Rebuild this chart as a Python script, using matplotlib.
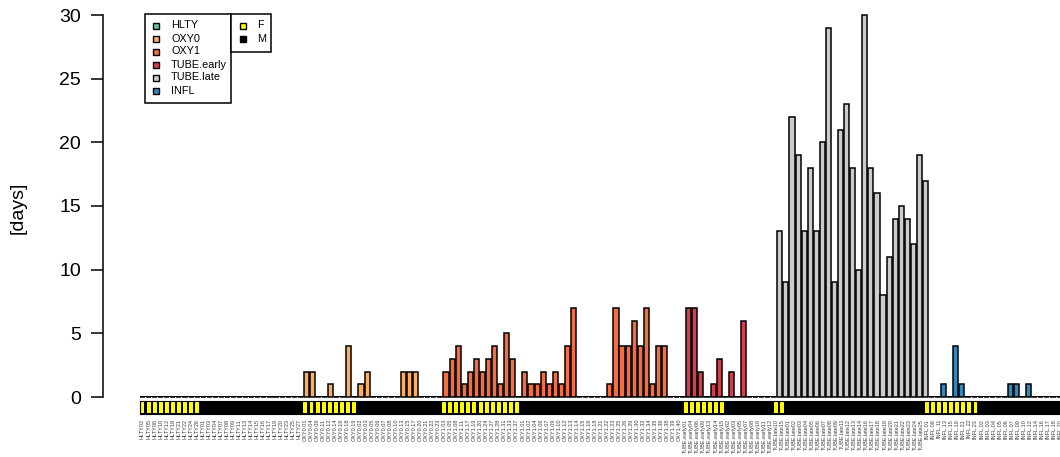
import numpy as np
import matplotlib.pyplot as plt
from matplotlib.patches import Rectangle

plt.rcParams['font.family'] = ['Liberation Sans', 'DejaVu Sans']

groups = ['HLTY', 'OXY0', 'OXY1', 'TUBE.early', 'TUBE.late', 'INFL']
group_colors = ['#66C2A5', '#FDAE61', '#F46D43', '#D53E4F', '#CCCCCC', '#3288BD']
label_prefix = ['HLTY', 'OXY0.', 'OXY1.', 'TUBE.early', 'TUBE.late', 'INFL.']
sex_levels = ['F', 'M']
sex_colors = ['#FFFF00', '#000000']

### sample ids per group, females first then males
hlty_f = [2, 5, 6, 10, 12, 18, 21, 22, 24, 26]
hlty_m = [1, 3, 4, 7, 8, 9, 11, 13, 14, 15, 16, 17, 19, 20, 23, 25, 27]
oxy0_f = [1, 4, 9, 11, 12, 14, 16, 18, 19]
oxy0_m = [2, 3, 5, 6, 7, 8, 10, 13, 15, 17, 20, 21, 22, 23]
oxy1_f = [3, 5, 8, 11, 17, 19, 20, 24, 27, 28, 31, 33, 37]
oxy1_m = [1, 2, 4, 6, 7, 9, 10, 12, 13, 14, 15, 16, 18, 21, 22, 23, 25, 26,
          29, 30, 32, 34, 35, 36, 38, 39, 40]
early_f = [1, 4, 6, 9, 13, 14, 15]
early_m = [2, 3, 5, 7, 8, 10, 11, 12]
late_f = [10, 15]
late_m = [1, 2, 3, 4, 5, 6, 7, 8, 9, 11, 12, 13, 14, 16, 17, 18, 19, 20, 21,
          22, 23, 24, 25]
infl_f = [1, 8, 11, 13, 15, 19, 21, 22, 23]
infl_m = [2, 3, 4, 5, 6, 7, 9, 10, 12, 14, 16, 17, 18, 20]

### days per sample (same order as the ids)
days_hlty = [0, 0, 0, 0, 0, 0, 0, 0, 0, 0, 0, 0, 0, 0, 0, 0, 0, 0, 0, 0, 0, 0, 0, 0, 0, 0, 0]
days_oxy0 = [2, 2, 0, 0, 1, 0, 0, 4, 0, 1, 2, 0, 0, 0, 0, 0, 2, 2, 2, 0, 0, 0, 0]
days_oxy1 = [2, 3, 4, 1, 2, 3, 2, 3, 4, 1, 5, 3, 0, 2, 1, 1, 2, 1, 2, 1, 4, 7,
             0, 0, 0, 0, 0, 1, 7, 4, 4, 6, 4, 7, 1, 4, 4, 0, 0, 0]
days_early = [7, 7, 2, 0, 1, 3, 0, 2, 0, 6, 0, 0, 0, 0, 0]
days_late = [13, 9, 22, 19, 13, 18, 13, 20, 29, 9, 21, 23, 18, 10, 30, 18, 16,
             8, 11, 14, 15, 14, 12, 19, 17]
days_infl = [0, 0, 1, 0, 4, 1, 0, 0, 0, 0, 0, 0, 0, 1, 1, 0, 1, 0, 0, 0, 0, 0, 0]

ids_f = [hlty_f, oxy0_f, oxy1_f, early_f, late_f, infl_f]
ids_m = [hlty_m, oxy0_m, oxy1_m, early_m, late_m, infl_m]
days_all = [days_hlty, days_oxy0, days_oxy1, days_early, days_late, days_infl]

labels, days, cols, sexcols = [], [], [], []
for g in range(len(groups)):
    for s, ids in enumerate([ids_f[g], ids_m[g]]):
        for n in ids:
            labels.append('%s%02d' % (label_prefix[g], n))
            sexcols.append(sex_colors[s])
            cols.append(group_colors[g])
    days += days_all[g]
x = np.arange(len(days))

W, H = 1060, 457
fig = plt.figure(figsize=(W / 100, H / 100), dpi=100)

def px_axes(left, top, right, bottom):
    return fig.add_axes([left / W, 1 - bottom / H, (right - left) / W, (bottom - top) / H])

pitch = 6.07
x0 = 142.5
xlim = ((140 - x0) / pitch, (1060 - x0) / pitch)

ax = px_axes(140, 15, 1060, 397)
ax.axhline(0, color='black', linewidth=1.4, zorder=1)
ax.bar(x, days, width=0.84, color=cols, edgecolor='black', linewidth=1.1, clip_on=False, zorder=2)
ax.set_xlim(*xlim)
ax.set_ylim(0, 30)
for s in ['top', 'right', 'bottom']:
    ax.spines[s].set_visible(False)
ax.spines['left'].set_position(('outward', 37 * 0.72))
ax.spines['left'].set_linewidth(1.1)
ax.set_xticks([])
ax.set_yticks(np.arange(0, 31, 5))
ax.tick_params(axis='y', labelsize=14, length=9, width=1.1, pad=7)
fig.text(18 / W, 1 - 208 / H, '[days]', rotation=90, fontsize=14, ha='center', va='center')

### sex strip
sax = px_axes(140, 401, 1060, 414)
sax.set_facecolor('black')
sax.bar(x, 0.8, bottom=0.1, width=0.66, color=sexcols, linewidth=0)
sax.set_xlim(*xlim)
sax.set_ylim(0, 1)
sax.set_yticks([])
sax.set_xticks(x)
sax.set_xticklabels(labels, rotation=90, fontsize=4, color='#404040')
sax.tick_params(axis='x', length=0, pad=3.5)

### legends
lax = fig.add_axes([0, 0, 1, 1])
lax.set_xlim(0, W)
lax.set_ylim(H, 0)
lax.axis('off')
lax.add_patch(Rectangle((145, 14), 86, 89, facecolor='white', edgecolor='black', linewidth=1.1))
lax.add_patch(Rectangle((231, 14), 40, 38, facecolor='white', edgecolor='black', linewidth=1.1))
for k, g in enumerate(groups):
    y = 25.5 + 13 * k
    lax.add_patch(Rectangle((152.5, y - 3), 6, 6, facecolor=group_colors[k], edgecolor='black', linewidth=1))
    lax.text(171, y, g, fontsize=7.8, va='center', ha='left')
for k, s in enumerate(sex_levels):
    y = 25.5 + 13 * k
    lax.add_patch(Rectangle((240, y - 3), 6, 6, facecolor=sex_colors[k], edgecolor='black', linewidth=1))
    lax.text(257, y, s, fontsize=7.8, va='center', ha='left')

plt.savefig('out.png', dpi=100)
